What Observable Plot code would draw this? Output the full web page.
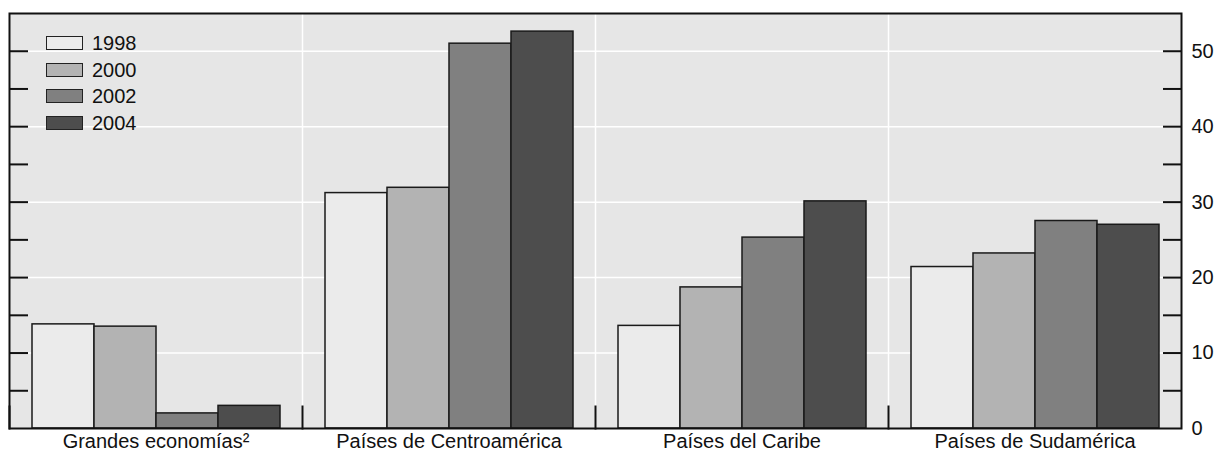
<!DOCTYPE html>
<html>
<head>
<meta charset="utf-8">
<script src="https://cdn.jsdelivr.net/npm/d3@7"></script>
<script src="https://cdn.jsdelivr.net/npm/@observablehq/plot@0.6"></script>
<style>
  body { margin: 0; background: #fff; font-family: "Liberation Sans", Arial, sans-serif; }
  #wrap { position: relative; width: 1217px; height: 452px; }
  #legend { position: absolute; left: 46px; top: 36px; }
  .item { position: absolute; left: 0; height: 14px; white-space: nowrap; }
  .sw { position: absolute; left: 0; top: 0; width: 37px; height: 14px; box-sizing: border-box; border: 1.5px solid #222; }
  .lab { position: absolute; left: 46px; top: -3px; font-size: 20px; line-height: 20px; color: #111; }
</style>
</head>
<body>
<div id="wrap"><div id="chart"></div><div id="legend"></div></div>
<script>
const groups = ["Grandes economías²", "Países de Centroamérica", "Países del Caribe", "Países de Sudamérica"];
const years = ["1998", "2000", "2002", "2004"];
const v1998 = [13.8, 31.2, 13.6, 21.4];
const v2000 = [13.5, 31.9, 18.7, 23.2];
const v2002 = [2.0, 51.0, 25.3, 27.5];
const v2004 = [3.0, 52.6, 30.1, 27.0];
const colors = ["#ebebeb", "#b3b3b3", "#808080", "#4d4d4d"];
const labelTicks = [0, 10, 20, 30, 40, 50];
const minorTicks = [5, 10, 15, 20, 25, 30, 35, 40, 45, 50];
const gridTicks = [10, 20, 30, 40, 50];

const series = [v1998, v2000, v2002, v2004];
const data = [];
groups.forEach((g, gi) => years.forEach((yr, yi) => data.push({group: g, year: yr, value: series[yi][gi]})));

const chart = Plot.plot({
  width: 1217,
  height: 452,
  marginLeft: 8,
  marginRight: 35,
  marginTop: 13,
  marginBottom: 24,
  style: {fontFamily: "Liberation Sans, Arial, sans-serif", fontSize: "20px", color: "#111", background: "#fff"},
  fx: {domain: groups, padding: 0},
  x: {domain: years, paddingInner: 0, paddingOuter: 0.358, axis: null},
  y: {domain: [0, 55]},
  color: {domain: years, range: colors},
  marks: [
    Plot.frame({fill: "#e6e6e6"}),
    Plot.gridY(gridTicks, {stroke: "white", strokeOpacity: 1, strokeWidth: 1.5}),
    Plot.frame({anchor: "left", stroke: "white", strokeWidth: 1.5}),
    Plot.barY(data, {fx: "group", x: "year", y: "value", fill: "year", stroke: "#1a1a1a", strokeWidth: 1.5}),
    Plot.frame({anchor: "left", stroke: "#111", strokeWidth: 2, insetTop: 393}),
    Plot.axisY(minorTicks, {anchor: "left", tickSize: -19, strokeWidth: 2, stroke: "#111", fill: "none", label: null}),
    Plot.axisY(minorTicks, {anchor: "right", tickSize: -19, strokeWidth: 2, stroke: "#111", fill: "none", label: null}),
    Plot.axisY(labelTicks, {anchor: "right", tickSize: 0, tickPadding: 10, label: null}),
    Plot.axisFx({anchor: "bottom", tickSize: 0, tickPadding: 5, label: null}),
    Plot.frame({facet: "super", stroke: "#111", strokeWidth: 2})
  ]
});
document.getElementById("chart").appendChild(chart);

const legend = document.getElementById("legend");
years.forEach((yr, i) => {
  const item = document.createElement("div");
  item.className = "item";
  item.style.top = (i * 26.6) + "px";
  const sw = document.createElement("div");
  sw.className = "sw";
  sw.style.background = colors[i];
  const lab = document.createElement("div");
  lab.className = "lab";
  lab.textContent = yr;
  item.appendChild(sw);
  item.appendChild(lab);
  legend.appendChild(item);
});
</script>
</body>
</html>
